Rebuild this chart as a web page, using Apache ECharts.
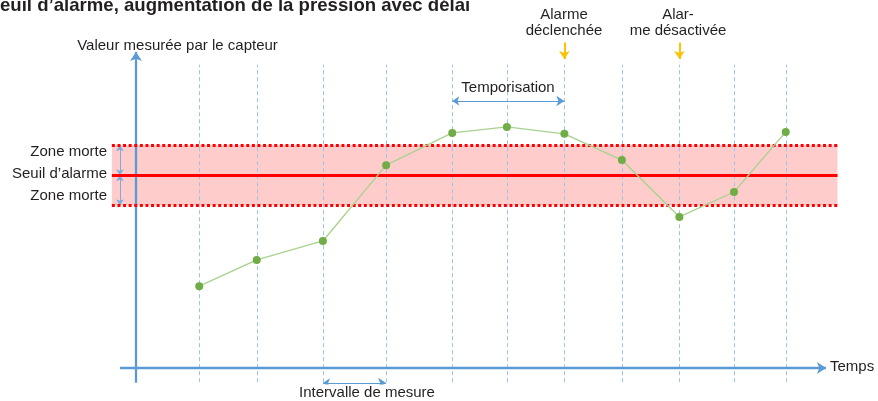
<!DOCTYPE html>
<html>
<head>
<meta charset="utf-8">
<script src="https://cdn.jsdelivr.net/npm/echarts@6/dist/echarts.min.js"></script>
<style>
html,body{margin:0;padding:0;background:#fff;}
#c{width:878px;height:401px;}
</style>
</head>
<body>
<div id="c"></div>
<script>
// ---- data ----
const times = [1.1, 2.1, 3.25, 4.35, 5.5, 6.45, 7.45, 8.45, 9.45, 10.4, 11.3];
const values = [25.9, 34.2, 40.2, 64.2, 74.4, 76.3, 74.1, 65.8, 47.8, 55.7, 74.7];
const threshold = 61;
const deadband = 9.5;
const bandStart = -0.42, bandEnd = 12.2;
const axisStartX = -0.28, axisEndX = 12.0;
const axisStartY = -4.7, axisEndY = 100;
const gridTop = 96, gridBottom = -4.5;
const alarmOnIdx = 6, alarmOffIdx = 8;
const delayFrom = 4, delayTo = 6;
const intervalFrom = 2, intervalTo = 3;
const texts = {
  title: 'Seuil d’alarme, augmentation de la pression avec délai',
  yName: 'Valeur mesurée par le capteur',
  xName: 'Temps',
  alarmOn: 'Alarme\ndéclenchée',
  alarmOff: 'Alar-\nme désactivée',
  delay: 'Temporisation',
  interval: 'Intervalle de mesure',
  dead: 'Zone morte',
  thr: 'Seuil d’alarme'
};

const FONT = '"Liberation Sans", Arial, Helvetica, sans-serif';
const TXT = '#231f20';
const chart = echarts.init(document.getElementById('c'), null, {renderer: 'canvas'});

const pts = times.map((t, i) => [t, values[i]]);
const gridLines = times.map(t => ({coords: [[t, gridBottom], [t, gridTop]]}));

function txt(text, x, y, align, opts) {
  return {
    type: 'text', x: x, y: y, z: 100,
    style: Object.assign({text: text, fill: TXT, font: '15px ' + FONT, align: align || 'center', verticalAlign: 'middle', lineHeight: 16.5}, opts || {})
  };
}

const option = {
  animation: false,
  grid: {left: 110.125, right: 37.625, top: 20.4, bottom: 17.2},
  xAxis: {type: 'value', min: -0.45, max: 12.25, show: false},
  yAxis: {type: 'value', min: -5, max: 110, show: false},
  series: [
    { // band fill
      type: 'line', data: [], z: 1, silent: true,
      markArea: {silent: true, itemStyle: {color: '#ffcccc'},
        data: [[{coord: [bandStart, threshold - deadband]}, {coord: [bandEnd, threshold + deadband]}]]}
    },
    { // vertical dashed measurement lines
      type: 'lines', coordinateSystem: 'cartesian2d', z: 2, silent: true,
      lineStyle: {color: '#9dc3e6', width: 1, type: [4, 3], opacity: 1},
      data: gridLines
    },
    { // threshold lines
      type: 'line', data: [], z: 3, silent: true,
      markLine: {silent: true, symbol: ['none', 'none'], label: {show: false},
        data: [
          [{coord: [bandStart, threshold + deadband], lineStyle: {color: '#ff0000', width: 3, type: [3, 2.6]}}, {coord: [bandEnd, threshold + deadband]}],
          [{coord: [bandStart, threshold - deadband], lineStyle: {color: '#ff0000', width: 3, type: [3, 2.6]}}, {coord: [bandEnd, threshold - deadband]}],
          [{coord: [bandStart, threshold], lineStyle: {color: '#ff0000', width: 3, type: 'solid'}}, {coord: [bandEnd, threshold]}]
        ]}
    },
    { // axes
      type: 'lines', coordinateSystem: 'cartesian2d', z: 4, silent: true,
      symbol: ['none', 'arrow'], symbolSize: [8, 9],
      lineStyle: {color: '#5b9bd5', width: 2.3, opacity: 1},
      data: [
        {coords: [[axisStartX, 0], [axisEndX, 0]]},
        {coords: [[0, axisStartY], [0, axisEndY]]}
      ]
    },
    { // dead band arrows
      type: 'lines', coordinateSystem: 'cartesian2d', z: 4, silent: true,
      symbol: ['arrow', 'arrow'], symbolSize: [6, 6],
      lineStyle: {color: '#7fabdc', width: 1, opacity: 1},
      data: [
        {coords: [[axisStartX, threshold + deadband], [axisStartX, threshold]]},
        {coords: [[axisStartX, threshold], [axisStartX, threshold - deadband]]}
      ]
    },
    { // delay / interval arrows
      type: 'lines', coordinateSystem: 'cartesian2d', z: 4, silent: true,
      symbol: ['arrow', 'arrow'], symbolSize: [7, 8],
      lineStyle: {color: '#5b9bd5', width: 1.2, opacity: 1},
      data: [
        {coords: [[times[delayFrom], 84.5], [times[delayTo], 84.5]]},
        {coords: [[times[intervalFrom], -4.75], [times[intervalTo], -4.75]]}
      ]
    },
    { // alarm arrows
      type: 'lines', coordinateSystem: 'cartesian2d', z: 4, silent: true,
      symbol: ['none', 'arrow'], symbolSize: [8, 8],
      lineStyle: {color: '#ffc000', width: 2, opacity: 1},
      data: [
        {coords: [[times[alarmOnIdx], 103], [times[alarmOnIdx], 97.8]]},
        {coords: [[times[alarmOffIdx], 103], [times[alarmOffIdx], 97.8]]}
      ]
    },
    { // measured values
      type: 'line', z: 5, silent: true,
      data: pts, symbol: 'circle', symbolSize: 8, showSymbol: true,
      lineStyle: {color: '#a9d18e', width: 1.3},
      itemStyle: {color: '#70ad47', borderWidth: 0}
    }
  ],
  graphic: [
    txt(texts.title, -12.4, 6, 'left', {font: 'bold 18.6px ' + FONT}),
    txt(texts.yName, 177.5, 46, 'center'),
    txt(texts.alarmOn, 564, 23, 'center'),
    txt(texts.alarmOff, 678, 23, 'center'),
    txt(texts.delay, 508, 88, 'center'),
    txt(texts.interval, 367, 393, 'center'),
    txt(texts.xName, 830, 367, 'left'),
    txt(texts.dead, 107, 152, 'right'),
    txt(texts.thr, 107, 174, 'right'),
    txt(texts.dead, 107, 196, 'right')
  ]
};
chart.setOption(option);
</script>
</body>
</html>
